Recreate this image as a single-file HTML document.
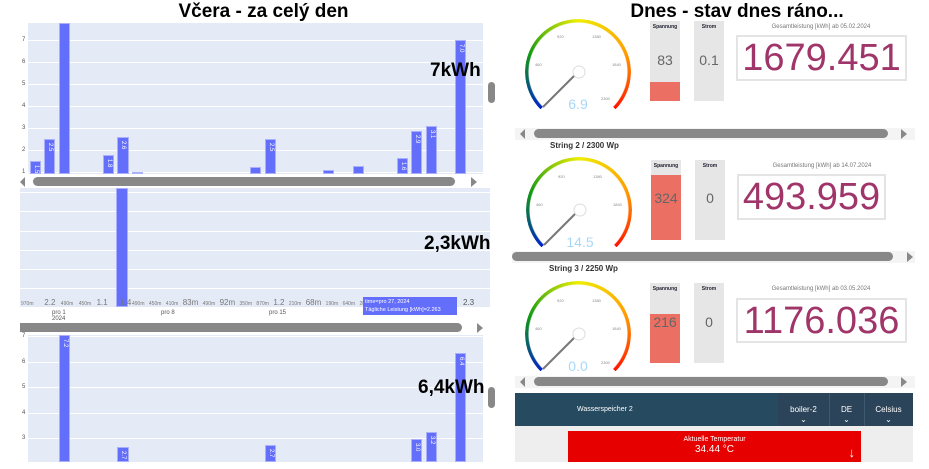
<!DOCTYPE html>
<html><head><meta charset="utf-8"><style>
*{margin:0;padding:0;box-sizing:border-box}
body{width:929px;height:469px;background:#fff;position:relative;overflow:hidden;font-family:"Liberation Sans",sans-serif}
.a{position:absolute}
.plot{position:absolute;background:#e5ebf6}
.g{position:absolute;left:0;right:0;height:1px;background:#fff}
.bar{position:absolute;background:#636efa;border:1px solid #aab0fb}
.bl{position:absolute;color:#fff;font-size:6px;writing-mode:vertical-rl;left:2px;top:3px}
.yl{position:absolute;font-size:6px;color:#555}
.big{position:absolute;font-weight:bold;font-size:19px;color:#000}
.sb{position:absolute;background:#888;border-radius:5px}
.tri{position:absolute;width:0;height:0}
.ring{position:absolute;width:106px;height:106px;border-radius:50%;
background:conic-gradient(from 225deg,#0022cc 0deg,#119911 65deg,#eeee00 135deg,#ff9900 205deg,#ff1100 270deg,transparent 270deg);
-webkit-mask:radial-gradient(circle,transparent 49px,#000 50px,#000 53px,transparent 53px);
mask:radial-gradient(circle,transparent 49px,#000 50px,#000 53px,transparent 53px)}
.box{position:absolute;background:#e6e6e6;width:30px;height:80px}
.box .t{position:absolute;top:3px;width:100%;text-align:center;font-size:5px;font-weight:bold;color:#223}
.box .f{position:absolute;left:0;right:0;bottom:0;background:#ec6f64}
.box .v{position:absolute;width:100%;text-align:center;font-size:14px;color:#666;top:32px}
.lab{position:absolute;font-size:6px;color:#777;text-align:center;width:200px}
.disp{position:absolute;border:2px solid #e4e4e4;background:#fff;color:#a0356a;font-size:38px;line-height:42px;text-align:center;white-space:nowrap;overflow:hidden}
.gt{position:absolute;font-size:4px;color:#888}
.gv{position:absolute;font-size:14px;color:#a8d8f8;width:40px;text-align:center}
.str{position:absolute;font-size:8px;font-weight:bold;color:#333}
.hsb{position:absolute;background:#f4f4f4;height:12px}
</style></head><body>

<div class="a" style="left:0;width:527px;top:1px;text-align:center;font-weight:bold;font-size:19px">Včera - za celý den</div>
<div class="a" style="left:487px;width:500px;top:1px;text-align:center;font-weight:bold;font-size:19px">Dnes - stav dnes ráno...</div>

<!-- chart 1 -->
<div class="plot" style="left:28px;top:23px;width:455px;height:151px">
<div class="g" style="top:17px"></div><div class="g" style="top:39px"></div><div class="g" style="top:61px"></div><div class="g" style="top:83px"></div><div class="g" style="top:105px"></div><div class="g" style="top:127px"></div><div class="g" style="top:149px"></div>
</div>
<div class="yl" style="left:22px;top:37px">7</div><div class="yl" style="left:22px;top:59px">6</div><div class="yl" style="left:22px;top:81px">5</div><div class="yl" style="left:22px;top:103px">4</div><div class="yl" style="left:22px;top:125px">3</div><div class="yl" style="left:22px;top:147px">2</div><div class="yl" style="left:22px;top:169px">1</div>
<div class="bar" style="left:30px;top:161px;width:11px;height:13px"><span class="bl">1.5</span></div>
<div class="bar" style="left:44px;top:139px;width:11px;height:35px"><span class="bl">2.5</span></div>
<div class="bar" style="left:59px;top:23px;width:11px;height:151px"></div>
<div class="bar" style="left:103px;top:155px;width:11px;height:19px"><span class="bl">1.8</span></div>
<div class="bar" style="left:117px;top:137px;width:12px;height:37px"><span class="bl">2.6</span></div>
<div class="bar" style="left:132px;top:172px;width:11px;height:2px"></div>
<div class="bar" style="left:250px;top:167px;width:11px;height:7px"></div>
<div class="bar" style="left:265px;top:139px;width:11px;height:35px"><span class="bl">2.5</span></div>
<div class="bar" style="left:323px;top:170px;width:11px;height:4px"></div>
<div class="bar" style="left:353px;top:166px;width:11px;height:8px"></div>
<div class="bar" style="left:397px;top:158px;width:11px;height:16px"><span class="bl">1.6</span></div>
<div class="bar" style="left:411px;top:131px;width:11px;height:43px"><span class="bl">2.9</span></div>
<div class="bar" style="left:426px;top:126px;width:11px;height:48px"><span class="bl">3.1</span></div>
<div class="bar" style="left:455px;top:40px;width:11px;height:134px"><span class="bl">7.0</span></div>
<div class="big" style="left:430px;top:60px">7kWh</div>
<div class="sb" style="left:488px;top:82px;width:7px;height:21px"></div>
<div class="sb" style="left:33px;top:177px;width:422px;height:9px"></div>
<div class="tri" style="left:20px;top:177px;border-right:5px solid #888;border-top:5px solid transparent;border-bottom:5px solid transparent"></div>
<div class="tri" style="left:471px;top:177px;border-left:6px solid #888;border-top:5px solid transparent;border-bottom:5px solid transparent"></div>

<!-- chart 2 -->
<div class="plot" style="left:20px;top:188px;width:470px;height:119px">
<div class="g" style="top:4px"></div><div class="g" style="top:23px"></div><div class="g" style="top:43px"></div><div class="g" style="top:62px"></div><div class="g" style="top:81px"></div><div class="g" style="top:100px"></div>
</div>
<div class="bar" style="left:116px;top:188px;width:12px;height:119px"></div>
<div class="a" style="left:21px;top:298px;font-size:5px;color:#777;word-spacing:4px">970m &nbsp;<span style="font-size:8px">2.2</span> 490m 450m <span style="font-size:8px">1.1 &nbsp;1.4</span></div>
<div class="a" style="left:132px;top:298px;font-size:5px;color:#777;word-spacing:3px">490m 450m 410m <span style="font-size:8px">83m</span> 490m <span style="font-size:8px">92m</span> 350m 870m <span style="font-size:8px">1.2</span> 210m <span style="font-size:8px">68m</span> 190m 640m 280m 720m</div>
<div class="a" style="left:363px;top:297px;width:94px;height:18px;background:#636efa;color:#fff;font-size:5.5px;line-height:8px;padding:1px 2px">time=pro 27, 2024<br>Tägliche Leistung [kWh]=2.263</div>
<div class="a" style="left:463px;top:298px;font-size:8px;color:#555">2.3</div>
<div class="a" style="left:52px;top:310px;font-size:6px;color:#555">pro 1<br>2024</div>
<div class="a" style="left:161px;top:310px;font-size:6px;color:#555">pro 8</div>
<div class="a" style="left:269px;top:310px;font-size:6px;color:#555">pro 15</div>
<div class="big" style="left:424px;top:233px">2,3kWh</div>
<div class="sb" style="left:20px;top:323px;width:442px;height:9px;border-radius:0 5px 5px 0"></div>
<div class="tri" style="left:477px;top:323px;border-left:6px solid #888;border-top:5px solid transparent;border-bottom:5px solid transparent"></div>

<!-- chart 3 -->
<div class="plot" style="left:28px;top:335px;width:455px;height:127px">
<div class="g" style="top:1px"></div><div class="g" style="top:27px"></div><div class="g" style="top:52px"></div><div class="g" style="top:78px"></div><div class="g" style="top:103px"></div>
</div>
<div class="yl" style="left:22px;top:333px">7</div><div class="yl" style="left:22px;top:359px">6</div><div class="yl" style="left:22px;top:384px">5</div><div class="yl" style="left:22px;top:410px">4</div><div class="yl" style="left:22px;top:435px">3</div>
<div class="bar" style="left:59px;top:335px;width:11px;height:127px"><span class="bl">7.2</span></div>
<div class="bar" style="left:117px;top:447px;width:12px;height:15px"><span class="bl">2.7</span></div>
<div class="bar" style="left:265px;top:445px;width:11px;height:17px"><span class="bl">2.7</span></div>
<div class="bar" style="left:411px;top:439px;width:11px;height:23px"><span class="bl">3.0</span></div>
<div class="bar" style="left:426px;top:432px;width:11px;height:30px"><span class="bl">3.2</span></div>
<div class="bar" style="left:455px;top:353px;width:11px;height:109px"><span class="bl">6.4</span></div>
<div class="big" style="left:418px;top:377px">6,4kWh</div>
<div class="sb" style="left:488px;top:387px;width:7px;height:21px"></div>

<!-- row1 -->
<div class="ring" style="left:525px;top:19px"></div>
<svg class="a" style="left:525px;top:19px" width="106" height="106"><line x1="53" y1="53" x2="18" y2="88" stroke="#777" stroke-width="2"/><circle cx="54" cy="53" r="6" fill="#fff" stroke="#ddd"/></svg>
<div class="gt" style="left:535px;top:62px">460</div><div class="gt" style="left:557px;top:34px">920</div><div class="gt" style="left:592px;top:34px">1380</div><div class="gt" style="left:612px;top:62px">1840</div><div class="gt" style="left:601px;top:96px">2300</div>
<div class="gv" style="left:558px;top:96px">6.9</div>
<div class="box" style="left:650px;top:21px"><div class="t">Spannung</div><div class="f" style="height:19px"></div><div class="v" style="top:31px">83</div></div>
<div class="box" style="left:694px;top:21px"><div class="t">Strom</div><div class="v" style="top:31px">0.1</div></div>
<div class="lab" style="left:721px;top:24px">Gesamtleistung [kWh] ab 05.02.2024</div>
<div class="disp" style="left:736px;top:35px;width:171px;height:46px">1679.451</div>
<div class="hsb" style="left:515px;top:128px;width:400px"></div>
<div class="sb" style="left:534px;top:129px;width:354px;height:9px"></div>
<div class="tri" style="left:520px;top:129px;border-right:5px solid #888;border-top:5px solid transparent;border-bottom:5px solid transparent"></div>
<div class="tri" style="left:901px;top:129px;border-left:6px solid #888;border-top:5px solid transparent;border-bottom:5px solid transparent"></div>
<div class="str" style="left:550px;top:141px">String 2 / 2300 Wp</div>

<!-- row2 -->
<div class="ring" style="left:526px;top:157px"></div>
<svg class="a" style="left:526px;top:157px" width="106" height="106"><line x1="53" y1="53" x2="18" y2="88" stroke="#777" stroke-width="2"/><circle cx="54" cy="53" r="6" fill="#fff" stroke="#ddd"/></svg>
<div class="gt" style="left:536px;top:202px">460</div><div class="gt" style="left:558px;top:174px">920</div><div class="gt" style="left:593px;top:174px">1380</div><div class="gt" style="left:613px;top:202px">1840</div>
<div class="gv" style="left:560px;top:234px">14.5</div>
<div class="box" style="left:651px;top:160px"><div class="t">Spannung</div><div class="f" style="height:65px"></div><div class="v" style="top:30px">324</div></div>
<div class="box" style="left:695px;top:160px"><div class="t">Strom</div><div class="v" style="top:30px">0</div></div>
<div class="lab" style="left:722px;top:163px">Gesamtleistung [kWh] ab 14.07.2024</div>
<div class="disp" style="left:737px;top:174px;width:149px;height:46px">493.959</div>
<div class="hsb" style="left:512px;top:251px;width:403px"></div>
<div class="sb" style="left:512px;top:252px;width:381px;height:9px"></div>
<div class="tri" style="left:907px;top:252px;border-left:6px solid #888;border-top:5px solid transparent;border-bottom:5px solid transparent"></div>
<div class="str" style="left:549px;top:264px">String 3 / 2250 Wp</div>

<!-- row3 -->
<div class="ring" style="left:525px;top:281px"></div>
<svg class="a" style="left:525px;top:281px" width="106" height="106"><line x1="53" y1="53" x2="18" y2="88" stroke="#777" stroke-width="2"/><circle cx="54" cy="53" r="6" fill="#fff" stroke="#ddd"/></svg>
<div class="gt" style="left:535px;top:326px">460</div><div class="gt" style="left:557px;top:298px">920</div><div class="gt" style="left:592px;top:298px">1380</div><div class="gt" style="left:612px;top:326px">1840</div><div class="gt" style="left:601px;top:360px">2300</div>
<div class="gv" style="left:558px;top:358px">0.0</div>
<div class="box" style="left:650px;top:283px"><div class="t">Spannung</div><div class="f" style="height:49px"></div><div class="v" style="top:31px">216</div></div>
<div class="box" style="left:694px;top:283px"><div class="t">Strom</div><div class="v" style="top:31px">0</div></div>
<div class="lab" style="left:721px;top:286px">Gesamtleistung [kWh] ab 03.05.2024</div>
<div class="disp" style="left:736px;top:298px;width:171px;height:45px">1176.036</div>
<div class="hsb" style="left:515px;top:376px;width:400px"></div>
<div class="sb" style="left:534px;top:377px;width:354px;height:9px"></div>
<div class="tri" style="left:520px;top:377px;border-right:5px solid #888;border-top:5px solid transparent;border-bottom:5px solid transparent"></div>
<div class="tri" style="left:901px;top:377px;border-left:6px solid #888;border-top:5px solid transparent;border-bottom:5px solid transparent"></div>

<!-- water -->
<div class="a" style="left:515px;top:393px;width:398px;height:33px;background:#264a60"></div>
<div class="a" style="left:778px;top:393px;width:135px;height:33px;background:#2c4459"></div>
<div class="a" style="left:829px;top:393px;width:1px;height:33px;background:#3d5a70"></div>
<div class="a" style="left:864px;top:393px;width:1px;height:33px;background:#3d5a70"></div>
<div class="a" style="left:577px;top:406px;font-size:7px;color:#fff">Wasserspeicher 2</div>
<div class="a" style="left:778px;top:405px;width:51px;text-align:center;font-size:8px;color:#fff;line-height:10px">boiler-2<br>⌄</div>
<div class="a" style="left:829px;top:405px;width:35px;text-align:center;font-size:8px;color:#fff;line-height:10px">DE<br>⌄</div>
<div class="a" style="left:864px;top:405px;width:49px;text-align:center;font-size:8px;color:#fff;line-height:10px">Celsius<br>⌄</div>
<div class="a" style="left:515px;top:426px;width:398px;height:36px;background:#eeeeee"></div>
<div class="a" style="left:568px;top:431px;width:293px;height:31px;background:#e60000;color:#fff;text-align:center">
<div style="font-size:7px;margin-top:5px">Aktuelle Temperatur</div>
<div style="font-size:10px;margin-top:1px">34.44 °C</div>
<div style="position:absolute;right:6px;top:14px;font-size:13px">↓</div></div>
</body></html>
